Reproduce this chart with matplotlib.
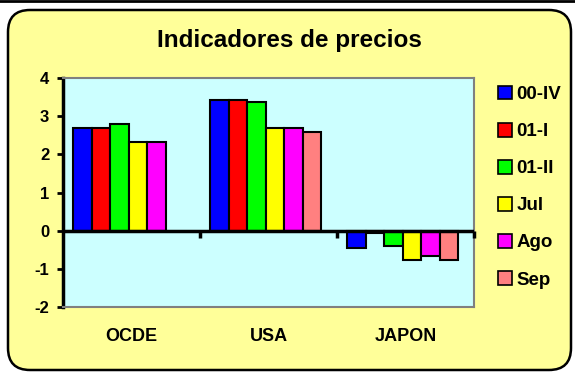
import numpy as np
import matplotlib
matplotlib.use("Agg")
import matplotlib.pyplot as plt
from matplotlib.patches import FancyBboxPatch, Patch

plt.rcParams['font.family'] = ['Liberation Sans', 'DejaVu Sans']
plt.rcParams['font.weight'] = 'bold'

categories = ['OCDE', 'USA', 'JAPON']
series = ['00-IV', '01-I', '01-II', 'Jul', 'Ago', 'Sep']
values = {
    '00-IV': [2.7, 3.43, -0.46],
    '01-I':  [2.7, 3.43, -0.07],
    '01-II': [2.79, 3.37, -0.41],
    'Jul':   [2.32, 2.69, -0.78],
    'Ago':   [2.32, 2.69, -0.67],
    'Sep':   [np.nan, 2.59, -0.78],
}
colors = ['#0000FF', '#FF0000', '#00FF00', '#FFFF00', '#FF00FF', '#FF8080']
yticks = [-2, -1, 0, 1, 2, 3, 4]

fig = plt.figure(figsize=(5.75, 3.72), dpi=100)
fig.patch.set_facecolor('white')

# rounded yellow frame, behind the axes
box = FancyBboxPatch((0.08, 0.02), 5.63, 3.60,
                     boxstyle='round,pad=0,rounding_size=0.22',
                     transform=fig.dpi_scale_trans,
                     facecolor='#FFFF99', edgecolor='black', linewidth=1.8,
                     zorder=-5)
fig.add_artist(box)
fig.add_artist(plt.Line2D([0, 1], [0.997, 0.997], transform=fig.transFigure,
                          color='black', lw=2, zorder=-4))

ax = fig.add_axes([0.1096, 0.1755, 0.7147, 0.614])
ax.set_facecolor('#CCFFFF')

x = np.arange(len(categories))
w = 0.135
n = len(series)
for i, s in enumerate(series):
    offs = (i - (n - 1) / 2) * w - 0.02
    ax.bar(x + offs, values[s], width=w, color=colors[i],
           edgecolor='black', linewidth=1.5, zorder=3)

ax.set_xlim(-0.5, 2.5)
ax.set_ylim(-2, 4)
ax.set_yticks(yticks)
ax.set_yticklabels([str(t) for t in yticks], fontsize=12, fontweight='bold')
ax.tick_params(axis='y', direction='out', length=4, width=2, pad=6)
ax.set_xticks(x)
ax.set_xticklabels(categories, fontsize=13, fontweight='bold')
ax.tick_params(axis='x', length=0, pad=15)

ax.axhline(0, color='black', lw=2.5, zorder=4)
ax.vlines([0.5, 1.5, 2.5], -0.2, 0, color='black', lw=2.5, zorder=4, clip_on=False)

for side in ['top', 'right', 'bottom']:
    ax.spines[side].set_color('#808080')
    ax.spines[side].set_linewidth(1.5)
ax.spines['left'].set_color('black')
ax.spines['left'].set_linewidth(2.5)

fig.text(0.503, 0.892, 'Indicadores de precios', ha='center', va='center',
         fontsize=17.5, fontweight='bold')

handles = [Patch(facecolor=c, edgecolor='black', linewidth=1.2) for c in colors]
fig.legend(handles, series, loc='center left', bbox_to_anchor=(0.866, 0.497),
           frameon=False, borderpad=0, borderaxespad=0, handlelength=0.75,
           handleheight=0.75, handletextpad=0.25, labelspacing=1.05,
           prop={'size': 13.5, 'weight': 'bold'})

fig.savefig('out.png', dpi=100, facecolor=fig.get_facecolor())
